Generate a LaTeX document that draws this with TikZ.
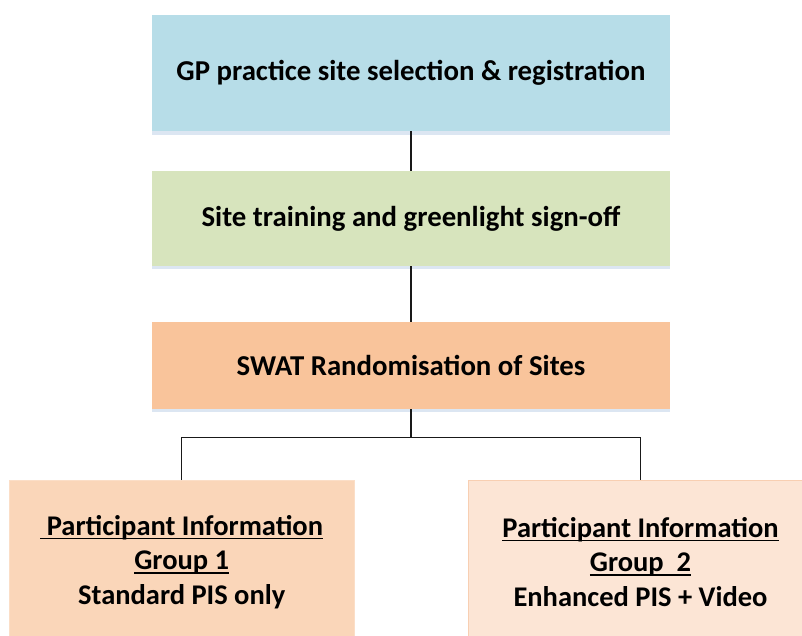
\documentclass[tikz,border=0pt]{standalone}
\usepackage{fontspec}
\setmainfont{Carlito}
\definecolor{cblue}{HTML}{B7DDE8}
\definecolor{cgreen}{HTML}{D7E4BD}
\definecolor{corange}{HTML}{F9C49B}
\definecolor{cpeach}{HTML}{FAD6B9}
\definecolor{clight}{HTML}{FCE5D5}
\definecolor{cshadow}{HTML}{DCE6F2}
\definecolor{cborder}{HTML}{F8CFB2}
\newcommand\myul[1]{\setbox0\hbox{#1}\rlap{\rule[-3.8pt]{\wd0}{1.3pt}}\box0}
\tikzset{
  x=1pt, y=-1pt,
  topbox/.style={rectangle, inner sep=0pt, minimum width=518pt, font=\fontsize{28.8}{34}\selectfont\bfseries, text=black},
  shadowbox/.style={rectangle, inner sep=0pt, fill=cshadow, minimum width=518pt},
  groupbox/.style={rectangle, inner sep=0pt, minimum width=345pt, minimum height=170pt, anchor=north},
  grouptext/.style={align=center, inner sep=0pt, font=\fontsize{28.5}{34.5}\selectfont\bfseries},
  link/.style={draw=black!90, line width=1.3pt}
}
\begin{document}
\begin{tikzpicture}
\clip (0,0) rectangle (802,635);
\fill[white] (0,0) rectangle (802,635);
% shadows
\node[shadowbox, minimum height=116pt] (s1) at (411,77) {};
\node[shadowbox, minimum height=95pt] (s2) at (411,221.5) {};
\node[shadowbox, minimum height=87pt] (s3) at (411,368.5) {};
% top boxes
\node[topbox, fill=cblue, minimum height=116pt] (b1) at (411,73) {GP practice site selection \& registration};
\node[topbox, fill=cgreen, minimum height=95pt] (b2) at (411,218.5) {Site training and greenlight sign-off};
\node[topbox, fill=corange, minimum height=87pt] (b3) at (411,365.5) {SWAT Randomisation of Sites};
% group boxes
\node[groupbox, fill=cpeach, draw=cpeach!80!white, line width=0.6pt] (b4) at (181.7,480) {};
\node[groupbox, fill=clight, draw=cborder, line width=0.8pt] (b5) at (640.5,480) {};
\node[grouptext] (t4) at (181.7,562) {\myul{\ Participant Information}\\ \myul{Group 1}\\ Standard PIS only};
\node[grouptext] (t5) at (640.5,562) {\myul{Participant Information}\\ \myul{Group\ \ 2}\\ Enhanced PIS + Video};
% connectors
\coordinate (split) at (411,437.7);
\draw[link] (b1.south) -- (b2.north);
\draw[link] (b2.south) -- (b3.north);
\draw[link] (b3.south) -- (split);
\draw[link] (b4.north) |- (split) -| (b5.north);
\end{tikzpicture}
\end{document}
